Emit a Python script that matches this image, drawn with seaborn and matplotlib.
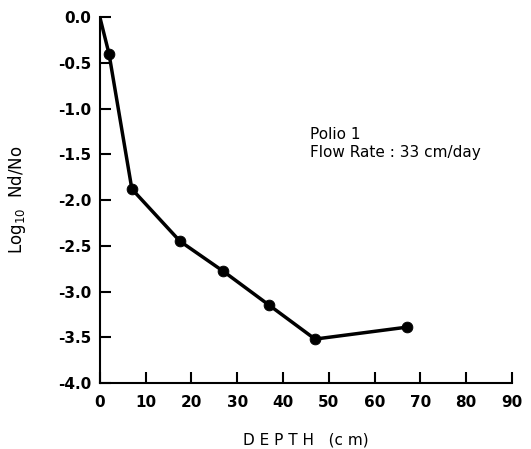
import matplotlib
matplotlib.use("Agg")
import matplotlib.pyplot as plt
import pandas as pd
import seaborn as sns

# Polio 1 removal vs depth
depth = [0, 2, 7, 17.5, 27, 37, 47, 67]
log_ratio = [0.0, -0.4, -1.88, -2.45, -2.78, -3.15, -3.52, -3.39]
has_marker = [False, True, True, True, True, True, True, True]

x_ticks = [0, 10, 20, 30, 40, 50, 60, 70, 80, 90]
y_ticks = [0.0, -0.5, -1.0, -1.5, -2.0, -2.5, -3.0, -3.5, -4.0]

df = pd.DataFrame({"depth": depth, "log": log_ratio, "marker": has_marker})

sns.set_style("ticks")
plt.rcParams["font.family"] = ["DejaVu Sans"]
plt.rcParams["text.color"] = "black"
plt.rcParams["axes.labelcolor"] = "black"

fig = plt.figure(figsize=(5.31, 4.49), dpi=100)
ax = fig.add_axes([0.188, 0.147, 0.776, 0.815])

sns.lineplot(data=df, x="depth", y="log", color="black", linewidth=2.5, ax=ax)
sns.scatterplot(data=df[df["marker"]], x="depth", y="log", color="black",
                s=60, edgecolor="black", zorder=5, ax=ax)

ax.set_xlim(0, 90)
ax.set_ylim(-4.0, 0.0)
ax.set_xticks(x_ticks)
ax.set_yticks(y_ticks)
ax.set_yticklabels([f"{v:.1f}" for v in y_ticks])
ax.tick_params(direction="in", length=8, width=1.5, labelsize=11, colors="black")
ax.tick_params(axis="x", pad=9)
ax.tick_params(axis="y", pad=6)
for lab in ax.get_xticklabels() + ax.get_yticklabels():
    lab.set_fontweight("semibold")
for s in ["top", "right"]:
    ax.spines[s].set_visible(False)
for s in ["left", "bottom"]:
    ax.spines[s].set_linewidth(1.5)
    ax.spines[s].set_color("black")

ax.set_xlabel("D E P T H   (c m)", fontsize=11, labelpad=16)
ax.set_ylabel(r"Log$_{10}$  Nd/No", fontsize=12, labelpad=22)

ax.text(46, -1.2, "Polio 1\nFlow Rate : 33 cm/day", fontsize=11,
        va="top", ha="left", linespacing=1.3)

fig.savefig("out.png", dpi=100)
